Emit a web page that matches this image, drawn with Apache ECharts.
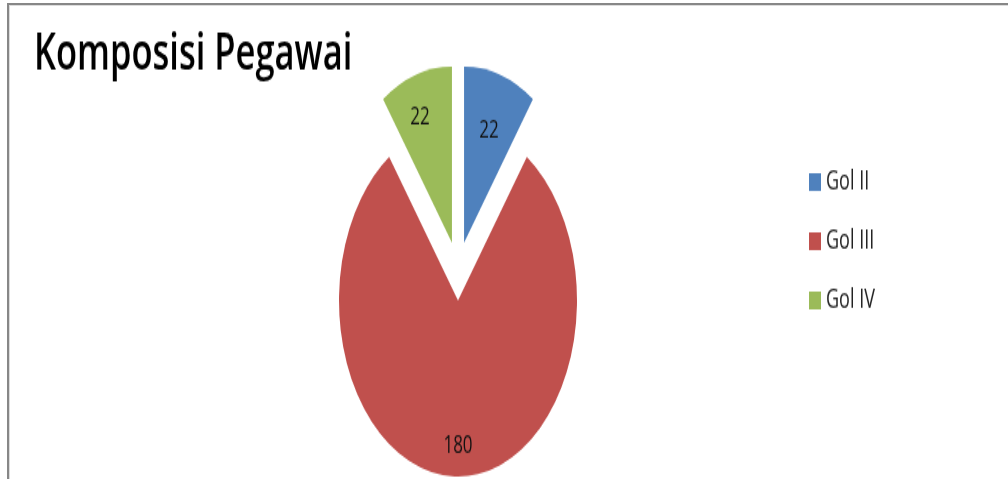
<!DOCTYPE html>
<html>
<head>
<meta charset="utf-8">
<script src="https://cdn.jsdelivr.net/npm/echarts@6/dist/echarts.min.js"></script>
<style>
html, body { margin: 0; padding: 0; background: #fff; }
.frame { position: absolute; left: 7px; top: 3px; width: 1001px; height: 476px; border-left: 2px solid #878787; border-top: 2px solid #878787; }
.frame_in { position: absolute; left: 9px; top: 5px; width: 999px; height: 474px; border-left: 1px solid #dcdcdc; border-top: 1px solid #dcdcdc; }
/* the reference is stretched vertically, so the chart is drawn flat and scaled */
#chart { position: absolute; left: 0; top: 0; width: 1008px; height: 324px; transform: scaleY(1.48); transform-origin: 0 0; }
</style>
</head>
<body>
<div class="frame"></div>
<div class="frame_in"></div>
<div id="chart"></div>
<script>
var golNames = ['Gol II', 'Gol III', 'Gol IV'];
var golValues = [22, 180, 22];
var golColors = ['#4F81BD', '#C0504D', '#9BBB59'];

var myChart = echarts.init(document.getElementById('chart'));
var labelShift = [[6, -16], [0, 36], [-13, -25]]; //label nudges, like excel best fit

myChart.setOption({
  animation: false,
  title: {
    text: 'Komposisi Pegawai',
    left: 29,
    top: 15,
    textStyle: {
      fontFamily: 'Open Sans',
      fontSize: 34.5,
      fontWeight: 600,
      color: '#000'
    }
  },
  legend: {
    orient: 'vertical',
    left: 809,
    top: 114,
    padding: 0,
    itemWidth: 12,
    itemHeight: 12,
    itemGap: 22,
    icon: 'rect',
    selectedMode: false,
    data: golNames,
    textStyle: {
      fontFamily: 'Open Sans',
      fontSize: 18,
      color: '#222'
    }
  },
  series: [{
    type: 'pie',
    center: [458, 183],
    radius: 119,
    startAngle: 90,
    clockwise: true,
    selectedMode: 'multiple',
    selectedOffset: 20,
    data: golNames.map(function (n, i) {
      return { name: n, value: golValues[i], selected: true, itemStyle: { color: golColors[i] } };
    }),
    label: {
      show: true,
      position: 'inside',
      formatter: '{c}',
      color: '#111',
      fontFamily: 'Open Sans',
      fontSize: 17
    },
    labelLine: { show: false },
    labelLayout: function (p) {
      var s = labelShift[p.dataIndex];
      return { dx: s[0], dy: s[1] };
    },
    emphasis: { disabled: true }
  }]
});
</script>
</body>
</html>
